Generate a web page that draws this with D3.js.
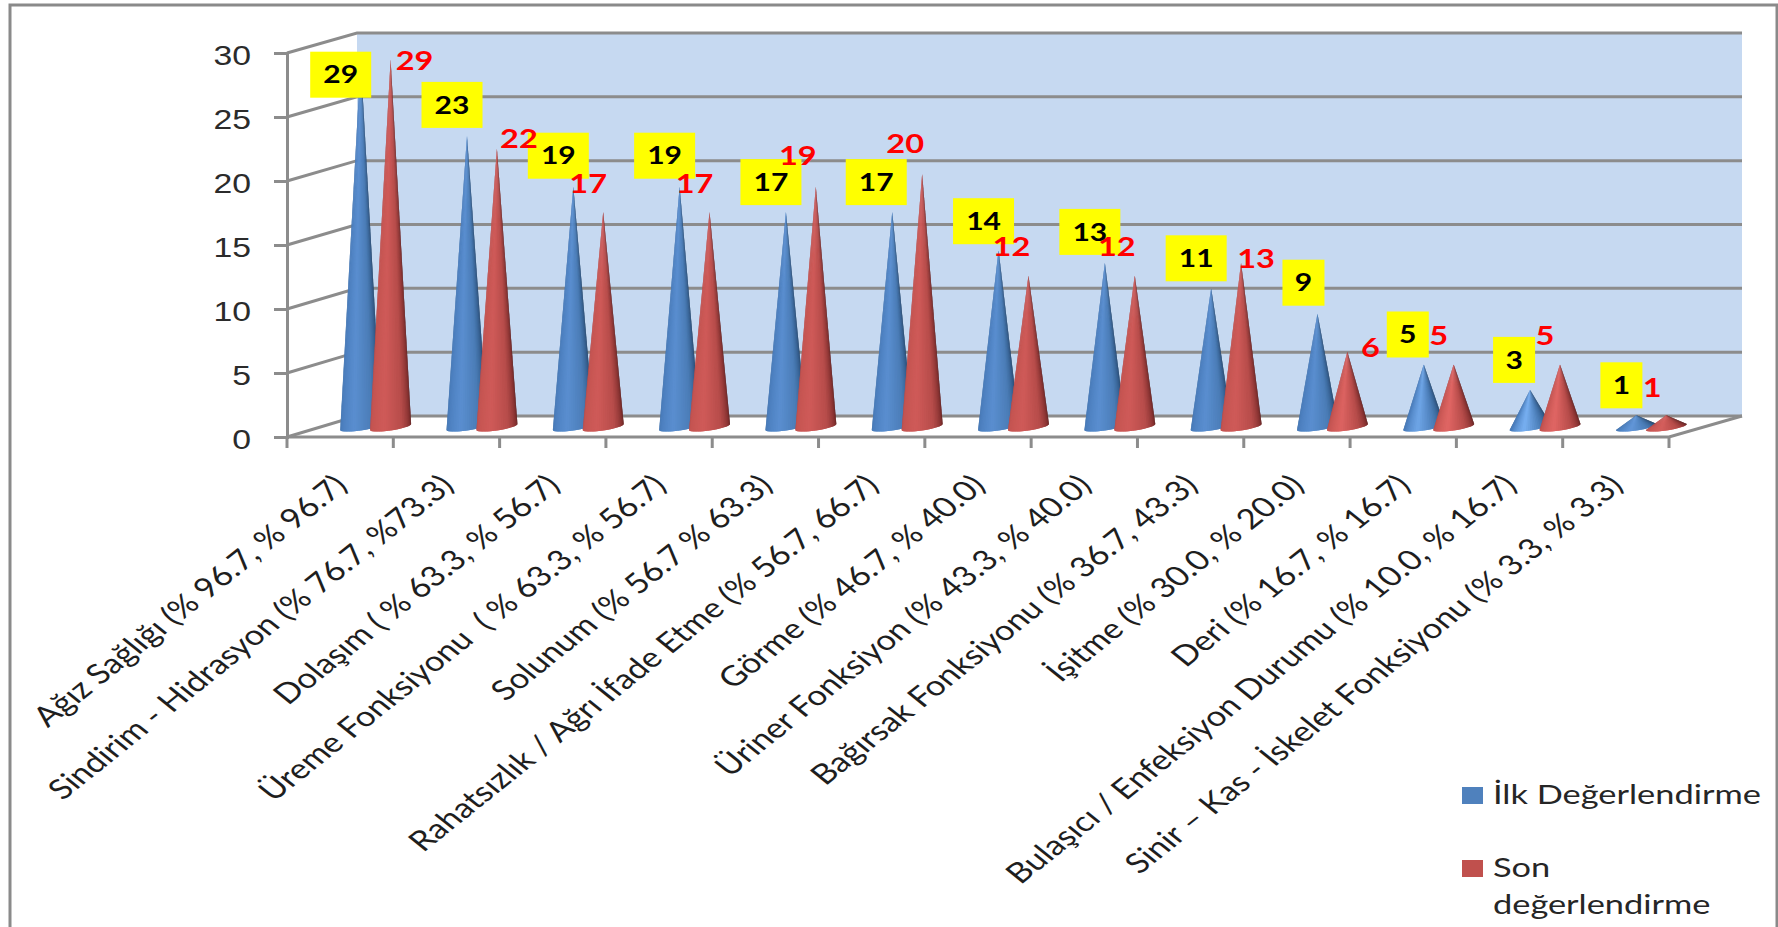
<!DOCTYPE html>
<html lang="tr">
<head>
<meta charset="utf-8">
<title>İlk ve son değerlendirme</title>
<script src="https://cdn.jsdelivr.net/npm/d3@7/dist/d3.min.js"></script>
<style>
  html, body { margin: 0; padding: 0; background: #fff; overflow: hidden; }
  svg { display: block; font-family: Lato, "Open Sans", sans-serif; }
</style>
</head>
<body>
<svg id="chart" width="1778" height="927"></svg>
<script>
// Chart values
const categories = [
  "Ağız Sağlığı (% 96.7, % 96.7)",
  "Sindirim - Hidrasyon (% 76.7, %73.3)",
  "Dolaşım ( % 63.3, % 56.7)",
  "Üreme Fonksiyonu  ( % 63.3, % 56.7)",
  "Solunum (% 56.7 % 63.3)",
  "Rahatsızlık / Ağrı İfade Etme (% 56.7, 66.7)",
  "Görme (% 46.7, % 40.0)",
  "Üriner Fonksiyon (% 43.3, % 40.0)",
  "Bağırsak Fonksiyonu (% 36.7, 43.3)",
  "İşitme (% 30.0, % 20.0)",
  "Deri (% 16.7, % 16.7)",
  "Bulaşıcı / Enfeksiyon Durumu (% 10.0, % 16.7)",
  "Sinir – Kas - İskelet Fonksiyonu (% 3.3, % 3.3)"
];
const firstValues = [29, 23, 19, 19, 17, 17, 14, 13, 11, 9, 5, 3, 1];
const lastValues  = [29, 22, 17, 17, 19, 20, 12, 12, 13, 6, 5, 5, 1];
const yTicks = [0, 5, 10, 15, 20, 25, 30];

// Hand-placed data label nudges, relative to each cone's tip
const firstLabelNudge = [[-20, 15], [-15, -31], [-15, -31], [-15, -31], [-15, -30], [-16, -30], [-15, -29], [-15, -31], [-15, -30], [-14, -31], [-16, -30], [-16, -30], [-15, -30]];
const lastLabelNudge  = [[24, 1], [22, -10], [-15, -28], [-15, -28], [-18, -31], [-17, -30], [-17, -29], [-18, -29], [15, -4], [23, -4], [-15, -29], [-15, -29], [-14, -28]];

// All text in the plot carries the same horizontal stretch
const STRETCH = 1.25;

const svg = d3.select("#chart");

// Scales: front edge of the floor, back wall, and cones standing mid-depth
const xFront = d3.scaleBand().domain(d3.range(categories.length)).range([287, 1669]);
const yFront = d3.scaleLinear().domain([0, 30]).range([437, 53]);
const yBack  = d3.scaleLinear().domain([0, 30]).range([416, 33]);
const yCone  = d3.scaleLinear().domain([0, 30]).range([428, 47]);
const wall = { left: 357, right: 1742 };
const gray = "#8c8c8c";

// Outer frame
svg.append("path")
  .attr("d", "M10,940V5H1777V940")
  .attr("fill", "none").attr("stroke", "#8a8a8a").attr("stroke-width", 3);

// Back wall
svg.append("rect")
  .attr("x", wall.left).attr("y", yBack(30))
  .attr("width", wall.right - wall.left).attr("height", yBack(0) - yBack(30))
  .attr("fill", "#c6d9f1");

// Gridlines: along the wall, then down the left side to the axis
const grid = svg.append("g").attr("stroke", gray).attr("stroke-width", 3).attr("fill", "none");
grid.selectAll("path").data(yTicks).join("path")
  .attr("d", d => `M${xFront.range()[0]},${yFront(d)}L${wall.left},${yBack(d)}H${wall.right}`);

// Floor front edge and right side
grid.append("path")
  .attr("d", `M${xFront.range()[0]},${yFront(0)}H${xFront.range()[1]}L${wall.right},${yBack(0)}`);

// Value axis
const yAxis = svg.append("g")
  .attr("transform", `translate(${xFront.range()[0]},0)`)
  .call(d3.axisLeft(yFront).tickValues(yTicks).tickSize(13).tickPadding(0));
yAxis.select(".domain").attr("stroke", gray).attr("stroke-width", 3);
yAxis.selectAll(".tick line").attr("stroke", gray).attr("stroke-width", 3);
yAxis.selectAll(".tick text")
  .attr("x", null).attr("dy", "0.36em")
  .attr("transform", `translate(-36,2) scale(${STRETCH},1)`)
  .attr("fill", "#2b2b2b").attr("font-size", 27);

// Category axis: ticks at the band edges, slanted labels under each band
const edges = d3.range(categories.length + 1).map(i => xFront.range()[0] + i * xFront.step());
svg.append("g").attr("stroke", gray).attr("stroke-width", 3)
  .selectAll("line").data(edges).join("line")
  .attr("x1", d => d).attr("x2", d => d)
  .attr("y1", yFront(0)).attr("y2", yFront(0) + 11);

svg.append("g").selectAll("text").data(categories).join("text")
  .attr("transform", (d, i) => `translate(${xFront(i) + xFront.bandwidth() / 2 + 9},487) scale(${STRETCH},1) rotate(-45)`)
  .attr("text-anchor", "end")
  .attr("fill", "#1e1e1e").attr("font-size", 27.8)
  .style("white-space", "pre")
  .text(d => d);

// Cone geometry, offsets measured from the left edge of each band
const blueTipOffset = 73.7;
const redTipOffset = 103.6;
const radius = 20.5;
const slices = 30;

const blueShade = (hi) => d3.scaleLinear()
  .domain([0, 0.12, 0.4, 0.68, 0.88, 1])
  .range(["#4272ad", "#4a7dbc", hi, "#4a7cb6", "#315987", "#22405f"]);
const redShade = (hi) => d3.scaleLinear()
  .domain([0, 0.12, 0.4, 0.68, 0.88, 1])
  .range(["#b84a48", "#c45451", hi, "#b74c4a", "#83302f", "#562020"]);

// Short cones catch more light around their middle
const glow = d3.scaleLinear().domain([1, 3, 9]).range([0.25, 1, 0]).clamp(true);
const blueHighlight = v => d3.interpolateRgb("#5a8ed0", "#78b0f2")(glow(v));
const redHighlight  = v => d3.interpolateRgb("#cf5a58", "#e86c6a")(glow(v));

// One cone is a fan of triangles from the tip to the curved base; each slice
// runs under the next so no seams show between them.
function drawCone(parent, cx, value, shadeFor, highlight) {
  const tipY = yCone(value);
  const shade = shadeFor(highlight(value));
  const basePoint = t => {
    const u = (1 - Math.cos(Math.PI * t)) / 2;
    return [cx - radius + 2 * radius * u, 430 - 6 * u + 3.5 * Math.sin(Math.PI * t)];
  };
  parent.append("g").attr("class", "cone")
    .selectAll("path").data(d3.range(slices)).join("path")
    .attr("d", j => {
      const a = basePoint(j / slices);
      const b = basePoint(Math.min(j + 2, slices) / slices);
      return `M${cx},${tipY}L${a[0]},${a[1]}L${b[0]},${b[1]}Z`;
    })
    .attr("fill", j => shade((j + 0.5) / slices));
}

const cones = svg.append("g");
categories.forEach((c, i) => {
  drawCone(cones, xFront(i) + blueTipOffset, firstValues[i], blueShade, blueHighlight);
  drawCone(cones, xFront(i) + redTipOffset, lastValues[i], redShade, redHighlight);
});

// Data labels for the first series, black on yellow boxes
const firstLabels = svg.append("g").selectAll("g").data(firstValues).join("g")
  .attr("transform", (d, i) => `translate(${xFront(i) + blueTipOffset + firstLabelNudge[i][0]},${yCone(d) + firstLabelNudge[i][1]})`);
firstLabels.append("rect")
  .attr("x", d => d >= 10 ? -30.5 : -21).attr("y", -23)
  .attr("width", d => d >= 10 ? 61 : 42).attr("height", 46)
  .attr("fill", "#ffff00");
firstLabels.append("text")
  .attr("transform", `scale(${STRETCH},1)`)
  .attr("text-anchor", "middle").attr("dy", "0.36em")
  .attr("fill", "#000").attr("font-size", 24).attr("font-weight", 700)
  .text(d => d);

// Data labels for the second series, red and unboxed, painted over the boxes
svg.append("g").selectAll("text").data(lastValues).join("text")
  .attr("transform", (d, i) => `translate(${xFront(i) + redTipOffset + lastLabelNudge[i][0]},${yCone(d) + lastLabelNudge[i][1]}) scale(${STRETCH},1)`)
  .attr("text-anchor", "middle").attr("dy", "0.36em")
  .attr("fill", "#ff0000").attr("font-size", 26).attr("font-weight", 700)
  .text(d => d);

// Legend
const legendEntries = [
  { color: "#4f81bd", lines: ["İlk Değerlendirme"], baseline: 804 },
  { color: "#c0504d", lines: ["Son", "değerlendirme"], baseline: 877 }
];
const legend = svg.append("g").selectAll("g").data(legendEntries).join("g");
legend.append("rect")
  .attr("x", 1462).attr("y", d => d.baseline - 17)
  .attr("width", 21).attr("height", 17)
  .attr("fill", d => d.color);
legend.each(function (d) {
  d3.select(this).selectAll("text").data(d.lines).join("text")
    .attr("transform", (line, k) => `translate(1493,${d.baseline + k * 37}) scale(${STRETCH},1)`)
    .attr("fill", "#262626").attr("font-size", 27.5)
    .text(line => line);
});
</script>
</body>
</html>
